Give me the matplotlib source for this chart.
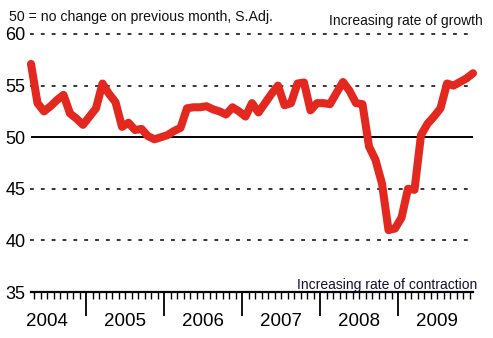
import matplotlib
matplotlib.use("Agg")
import matplotlib.pyplot as plt
import numpy as np

plt.rcParams['font.family'] = ['Liberation Sans', 'DejaVu Sans']

# monthly index, Apr 2004 - Dec 2009
values = [57.1, 53.3, 52.5, 53.0, 53.6, 54.1, 52.3, 51.8, 51.2, 52.0,
          52.8, 55.2, 54.2, 53.4, 51.0, 51.4, 50.7, 50.8, 50.1, 49.8,
          50.0, 50.2, 50.6, 50.9, 52.8, 52.9, 52.9, 53.0, 52.7, 52.5,
          52.2, 52.9, 52.5, 52.0, 53.3, 52.4, 53.3, 54.2, 55.0, 53.1,
          53.3, 55.2, 55.3, 52.6, 53.3, 53.3, 53.2, 54.3, 55.35, 54.5,
          53.3, 53.2, 49.1, 47.8, 45.5, 41.0, 41.15, 42.2, 45.0, 44.9,
          50.2, 51.3, 52.0, 52.8, 55.2, 55.0, 55.35, 55.7, 56.2]
years = ['2004', '2005', '2006', '2007', '2008', '2009']
start_month = 3   # April (0 = January)
grid_levels = [40, 45, 55, 60]
ytick_vals = [35, 40, 45, 50, 55, 60]

fig = plt.figure(figsize=(4.93, 3.38), dpi=100)
ax = fig.add_axes([31/493, 46/338, 442/493, 258/338])

x = np.arange(len(values))
ax.set_xlim(0, len(values) - 1)
ax.set_ylim(35, 60)

for g in grid_levels:
    ax.plot([-0.1, len(values) - 1.5], [g, g], color='black', lw=1.1,
            linestyle=(0, (2.5, 4.6)), clip_on=False, zorder=1)
ax.axhline(50, color='black', lw=1.4, zorder=1)

ax.plot(x, values, color='#e3281f', lw=5.8, solid_joinstyle='round',
        solid_capstyle='round', zorder=3, clip_on=False)

for s in ['top', 'right', 'left']:
    ax.spines[s].set_visible(False)
ax.spines['bottom'].set_linewidth(1.6)

# y labels
ax.set_yticks(ytick_vals)
ax.set_yticklabels([str(v) for v in ytick_vals], fontsize=13)
ax.tick_params(axis='y', length=0, pad=4)

# month ticks at month boundaries, year ticks at January boundaries
month_edges = np.arange(-0.5, len(values) + 0.5, 1.0)
month_edges = month_edges[(month_edges >= 0) & (month_edges <= len(values) - 1)]
year_edges = [i - 0.5 for i in range(len(values)) if (start_month + i) % 12 == 0]
ax.set_xticks(year_edges)
ax.set_xticklabels([])
ax.set_xticks(month_edges, minor=True)
ax.tick_params(axis='x', which='major', length=17, width=1.3, direction='out')
ax.tick_params(axis='x', which='minor', length=5, width=1.0, direction='out')

# year labels centred on each calendar year
for k, yr in enumerate(years):
    first = k * 12 - start_month
    ax.text(first + 5.5, 33.0, yr, ha='center', va='top', fontsize=13.5)

ax.text(-3.4, 61.0, '50 = no change on previous month, S.Adj.', ha='left',
        va='bottom', fontsize=10.2, color='#111')
ax.text(len(values) + 0.5, 60.6, 'Increasing rate of growth', ha='right',
        va='bottom', fontsize=10, color='#111')
ax.text(len(values) - 0.4, 35.0, 'Increasing rate of contraction', ha='right',
        va='bottom', fontsize=10, color='#111133')

fig.savefig('out.png', dpi=100)
